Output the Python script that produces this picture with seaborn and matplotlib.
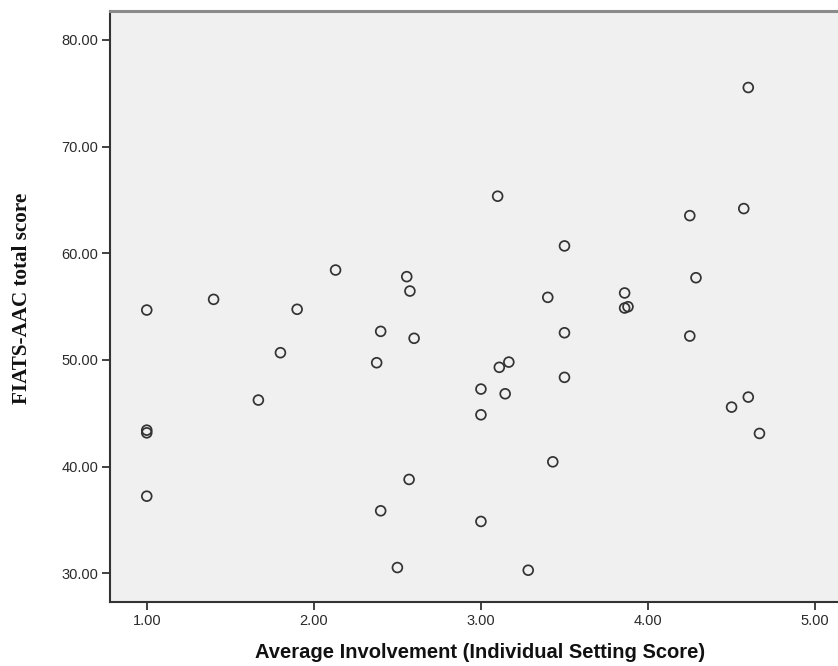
import matplotlib
matplotlib.use("Agg")
import matplotlib.pyplot as plt
import seaborn as sns
import pandas as pd

involvement = [1.00, 1.40, 1.90, 2.13, 2.556, 2.575, 2.40, 2.60, 4.60, 3.10,
               4.25, 4.573, 3.50, 4.287, 3.40, 3.86, 3.86, 3.88, 3.50, 4.25,
               1.80, 2.376, 1.668, 1.00, 1.00, 1.00, 2.57, 2.40, 2.50, 3.167,
               3.11, 3.00, 3.145, 3.50, 3.00, 3.43, 3.00, 3.283, 4.50, 4.60,
               4.667]
fiats_total = [54.67, 55.67, 54.74, 58.42, 57.80, 56.45, 52.67, 52.02, 75.53, 65.34,
               63.52, 64.18, 60.68, 57.70, 55.86, 56.27, 54.86, 54.98, 52.54, 52.23,
               50.67, 49.73, 46.23, 43.41, 43.16, 37.22, 38.79, 35.85, 30.53, 49.79,
               49.30, 47.26, 46.82, 48.36, 44.85, 40.44, 34.85, 30.28, 45.57, 46.51,
               43.10]
x_ticks = [1.0, 2.0, 3.0, 4.0, 5.0]
y_ticks = [30.0, 40.0, 50.0, 60.0, 70.0, 80.0]

df = pd.DataFrame({"x": involvement, "y": fiats_total})

sns.set_style("white")
W, H = 838, 666
fig = plt.figure(figsize=(W / 100, H / 100), dpi=100)
ax = fig.add_axes([110 / W, (H - 602) / H, (W - 110) / W + 0.002, (602 - 10.5) / H])
ax.set_facecolor("#f0f0f0")

sns.scatterplot(data=df, x="x", y="y", ax=ax, marker="o", s=50,
                facecolors="none", edgecolor="#333333", linewidth=1.25)

ax.set_xlim(0.78, 5.147)
ax.set_ylim(27.3, 82.75)
ax.set_xticks(x_ticks)
ax.set_xticklabels([f"{v:.2f}" for v in x_ticks])
ax.set_yticks(y_ticks)
ax.set_yticklabels([f"{v:.2f}" for v in y_ticks])

for lab in ax.get_xticklabels() + ax.get_yticklabels():
    lab.set_fontfamily("Liberation Sans")
    lab.set_fontsize(10.5)
    lab.set_color("#2a2a2a")

ax.tick_params(axis="both", direction="out", length=6, width=1.3, color="#333333",
               bottom=True, left=True, pad=2.5)

ax.spines["right"].set_visible(False)
ax.spines["top"].set_color("#8a8a8a")
ax.spines["top"].set_linewidth(2.2)
for s in ["left", "bottom"]:
    ax.spines[s].set_color("#333333")
    ax.spines[s].set_linewidth(1.5)

ax.set_xlabel("Average Involvement (Individual Setting Score)",
              fontfamily="Liberation Sans", fontweight="bold", fontsize=14.5,
              color="#111111")
ax.set_ylabel("FIATS-AAC total score", fontfamily="Liberation Serif",
              fontweight="bold", fontsize=15.2, color="#111111")
ax.xaxis.set_label_coords((480 - 110) / 730, -(653 - 602) / 591.5, transform=ax.transAxes)
ax.xaxis.label.set_va("center")
ax.yaxis.set_label_coords(-(110 - 22) / 730, (602 - 298) / 591.5, transform=ax.transAxes)
ax.yaxis.label.set_va("center")

fig.savefig("out.png", dpi=100, facecolor="white")
